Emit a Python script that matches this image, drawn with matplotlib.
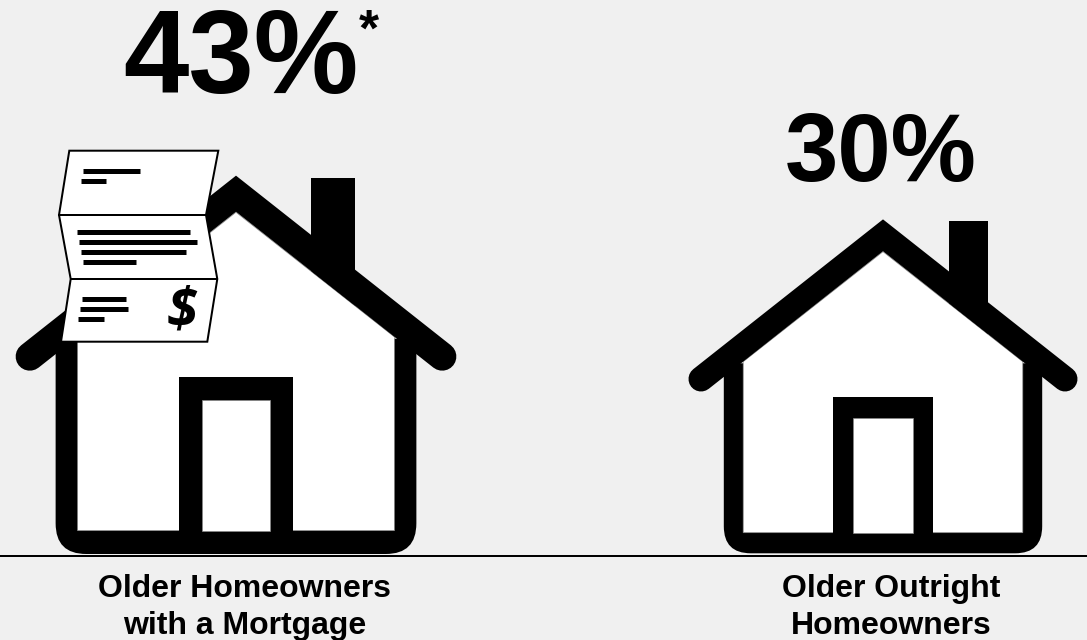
import matplotlib
matplotlib.use('Agg')
import matplotlib.pyplot as plt
from matplotlib.patches import PathPatch, Polygon, Rectangle
from matplotlib.path import Path

values = [43, 30]
footnotes = ['*', '']
labels = [['Older Homeowners', 'with a Mortgage'], ['Older Outright', 'Homeowners']]

# house geometry in pixels at scale 1, as (dx from centre, height above ground)
WALL_OUTER = 159.2
WALL_INNER = 139.8
WALL_TOP = 190
FLOOR = 20.6
CORNER = 27
EAVE_INNER = 191.6
APEX_INNER = 301.6
APEX_MID = 318
CAP_DX = 182
CAP_H = 174.3
ROOF_WIDTH = 25
DOOR_OUTER = 50
DOOR_TOP = 156
DOOR_INNER = 29.7
DOOR_INNER_TOP = 135.6
CHIMNEY = (66, 105.3, 332.3)

PX = 0.72  # points per pixel at dpi 100


def draw_house(ax, cx, ground, s):
    def pt(dx, h):
        return (cx + dx * s, ground - h * s)

    verts = [pt(-WALL_OUTER, WALL_TOP), pt(-WALL_OUTER, CORNER), pt(-WALL_OUTER, 0), pt(-WALL_OUTER + CORNER, 0),
             pt(WALL_OUTER - CORNER, 0), pt(WALL_OUTER, 0), pt(WALL_OUTER, CORNER), pt(WALL_OUTER, WALL_TOP),
             pt(-WALL_OUTER, WALL_TOP)]
    codes = [Path.MOVETO, Path.LINETO, Path.CURVE3, Path.CURVE3, Path.LINETO, Path.CURVE3, Path.CURVE3,
             Path.LINETO, Path.CLOSEPOLY]
    ax.add_patch(PathPatch(Path(verts, codes), fc='black', ec='none', zorder=2))

    x0, y0 = pt(CHIMNEY[0], CHIMNEY[2])
    ax.add_patch(Rectangle((x0, y0), (CHIMNEY[1] - CHIMNEY[0]) * s, (CHIMNEY[2] - 200) * s,
                           fc='black', ec='none', zorder=2))

    inner = [pt(-WALL_INNER, FLOOR), pt(-WALL_INNER, EAVE_INNER), pt(0, APEX_INNER),
             pt(WALL_INNER, EAVE_INNER), pt(WALL_INNER, FLOOR)]
    ax.add_patch(Polygon(inner, closed=True, fc='white', ec='#888888', lw=0.5, zorder=3))

    # roof sits over the white body so the eaves stay clean
    roof = [pt(-CAP_DX, CAP_H), pt(0, APEX_MID), pt(CAP_DX, CAP_H)]
    ax.plot([p[0] for p in roof], [p[1] for p in roof], color='black', lw=ROOF_WIDTH * s * PX,
            solid_capstyle='round', solid_joinstyle='miter', zorder=4)

    # door frame runs down into the floor band
    door = [pt(-DOOR_OUTER, FLOOR - 2), pt(-DOOR_OUTER, DOOR_TOP), pt(DOOR_OUTER, DOOR_TOP), pt(DOOR_OUTER, FLOOR - 2)]
    ax.add_patch(Polygon(door, closed=True, fc='black', ec='none', zorder=4))
    door_in = [pt(-DOOR_INNER, FLOOR), pt(-DOOR_INNER, DOOR_INNER_TOP), pt(DOOR_INNER, DOOR_INNER_TOP),
               pt(DOOR_INNER, FLOOR)]
    ax.add_patch(Polygon(door_in, closed=True, fc='white', ec='#888888', lw=0.5, zorder=5))


def draw_bill(ax):
    outline = [(69.3, 150.7), (218.3, 150.7), (206, 215), (217.3, 279), (207.3, 341.7),
               (61, 341.7), (70.7, 279), (59, 215)]
    ax.add_patch(Polygon(outline, closed=True, fc='white', ec='black', lw=2 * PX, zorder=6))
    ax.plot([59, 206], [215, 215], color='black', lw=2 * PX, zorder=7)
    ax.plot([70.7, 217.3], [279, 279], color='black', lw=2 * PX, zorder=7)

    text_lines = [(82.7, 140, 171), (80.7, 106, 181),
                  (77.3, 190, 232.3), (79.3, 196.7, 242.3), (81, 185.7, 252.3), (82.7, 135.7, 262.3),
                  (82.3, 125.7, 298.7), (80.3, 128.3, 309), (78.3, 104.3, 319)]
    for x1, x2, y in text_lines:
        ax.plot([x1, x2], [y, y], color='black', lw=5 * PX, solid_capstyle='butt', zorder=7)
    ax.text(182, 312, '$', fontsize=40, family='Open Sans', weight='bold', style='italic',
            ha='center', va='center', color='black', zorder=7)


def main():
    plt.rcParams['font.family'] = ['Liberation Sans', 'DejaVu Sans']
    fig = plt.figure(figsize=(10.87, 6.4), dpi=100, facecolor='#f0f0f0')
    ax = fig.add_axes([0, 0, 1, 1])
    ax.set_xlim(0, 1087)
    ax.set_ylim(640, 0)
    ax.axis('off')

    draw_house(ax, 236, 554, 1.133)
    draw_house(ax, 883, 553.3, 1.0)
    draw_bill(ax)
    ax.plot([0, 1087], [556, 556], color='black', lw=2 * PX, zorder=8)

    # big percentages above each house
    ax.text(240.5, 93.5, f'{values[0]}%', fontsize=84.7, weight='bold', ha='center', va='baseline')
    ax.text(881, 181, f'{values[1]}%', fontsize=69, weight='bold', ha='center', va='baseline')
    ax.text(369, 46, footnotes[0], fontsize=37, weight='bold', ha='center', va='baseline')

    for cx, lines in zip([244.5, 891], labels):
        ax.text(cx, 596.7, lines[0], fontsize=23, weight='bold', ha='center', va='baseline')
        ax.text(cx, 634, lines[1], fontsize=23, weight='bold', ha='center', va='baseline')

    fig.savefig('out.png', dpi=100, facecolor=fig.get_facecolor())
    plt.close(fig)


if __name__ == '__main__':
    main()
